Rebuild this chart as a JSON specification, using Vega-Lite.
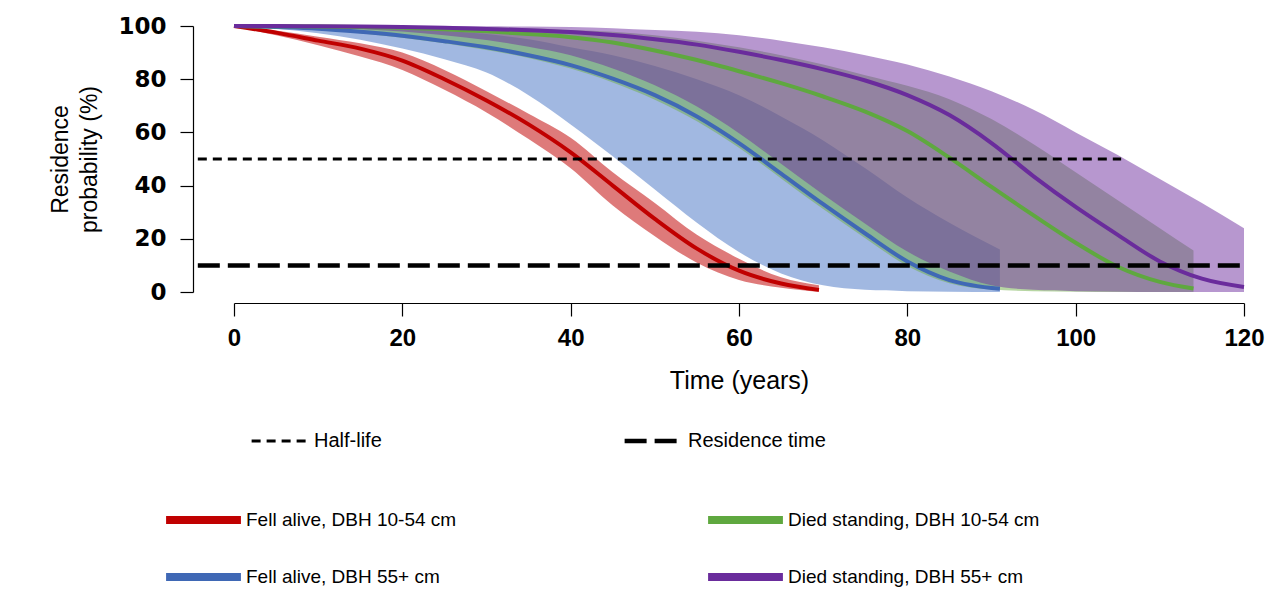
{
  "$schema": "https://vega.github.io/schema/vega-lite/v6.json",
  "width": 1010,
  "height": 266,
  "autosize": {"type": "none"},
  "padding": {"left": 234, "top": 26, "right": 37, "bottom": 315},
  "background": "white",
  "config": {
    "view": {"stroke": null},
    "font": "Liberation Sans",
    "axisY": {
      "offset": 41, "tickSize": 13, "tickColor": "#000", "domainColor": "#000",
      "tickWidth": 1.2, "domainWidth": 1.2, "grid": false, "labelFlush": false,
      "labelFont": "DejaVu Sans", "labelFontWeight": "bold", "labelFontSize": 23,
      "labelColor": "#000", "labelPadding": 14,
      "titleFont": "Liberation Sans", "titleFontSize": 23, "titleFontWeight": "normal",
      "titleColor": "#000", "titlePadding": 16, "titleLineHeight": 29
    },
    "axisX": {
      "offset": 11, "tickSize": 13, "tickColor": "#000", "domainColor": "#000",
      "tickWidth": 1.2, "domainWidth": 1.2, "grid": false, "labelFlush": false,
      "labelFont": "Liberation Sans", "labelFontWeight": "bold", "labelFontSize": 24,
      "labelColor": "#000", "labelPadding": 10,
      "titleFont": "Liberation Sans", "titleFontSize": 25, "titleFontWeight": "normal",
      "titleColor": "#000", "titlePadding": 18
    }
  },
  "datasets": {
    "curves": [
      {"s": "Fell alive, DBH 10-54 cm", "t": 0, "p": 100, "lo": 100, "hi": 100},
      {"s": "Fell alive, DBH 10-54 cm", "t": 5, "p": 97.5, "lo": 96.5, "hi": 98.3},
      {"s": "Fell alive, DBH 10-54 cm", "t": 10, "p": 94.5, "lo": 92.8, "hi": 96},
      {"s": "Fell alive, DBH 10-54 cm", "t": 15, "p": 91.5, "lo": 88.5, "hi": 93.5},
      {"s": "Fell alive, DBH 10-54 cm", "t": 20, "p": 87, "lo": 83.5, "hi": 90},
      {"s": "Fell alive, DBH 10-54 cm", "t": 25, "p": 80, "lo": 76, "hi": 83.5},
      {"s": "Fell alive, DBH 10-54 cm", "t": 30, "p": 72, "lo": 67.5, "hi": 75.5},
      {"s": "Fell alive, DBH 10-54 cm", "t": 35, "p": 63, "lo": 57.5, "hi": 67},
      {"s": "Fell alive, DBH 10-54 cm", "t": 40, "p": 52.5, "lo": 46.5, "hi": 58},
      {"s": "Fell alive, DBH 10-54 cm", "t": 45, "p": 40, "lo": 32.5, "hi": 45},
      {"s": "Fell alive, DBH 10-54 cm", "t": 50, "p": 27.5, "lo": 21, "hi": 33.5},
      {"s": "Fell alive, DBH 10-54 cm", "t": 55, "p": 16.3, "lo": 11, "hi": 21.5},
      {"s": "Fell alive, DBH 10-54 cm", "t": 60, "p": 8, "lo": 4.5, "hi": 12.5},
      {"s": "Fell alive, DBH 10-54 cm", "t": 65, "p": 3.2, "lo": 1.6, "hi": 5.5},
      {"s": "Fell alive, DBH 10-54 cm", "t": 69.5, "p": 0.8, "lo": 0, "hi": 2.5},

      {"s": "Fell alive, DBH 55+ cm", "t": 0, "p": 100, "lo": 100, "hi": 100},
      {"s": "Fell alive, DBH 55+ cm", "t": 5, "p": 99.6, "lo": 99, "hi": 99.9},
      {"s": "Fell alive, DBH 55+ cm", "t": 10, "p": 99, "lo": 97.3, "hi": 99.8},
      {"s": "Fell alive, DBH 55+ cm", "t": 15, "p": 97.8, "lo": 94.8, "hi": 99.5},
      {"s": "Fell alive, DBH 55+ cm", "t": 20, "p": 96.3, "lo": 91.5, "hi": 99},
      {"s": "Fell alive, DBH 55+ cm", "t": 25, "p": 94.3, "lo": 87.5, "hi": 98.2},
      {"s": "Fell alive, DBH 55+ cm", "t": 30, "p": 92, "lo": 82.5, "hi": 97},
      {"s": "Fell alive, DBH 55+ cm", "t": 35, "p": 89, "lo": 74, "hi": 95},
      {"s": "Fell alive, DBH 55+ cm", "t": 40, "p": 85.3, "lo": 63, "hi": 92},
      {"s": "Fell alive, DBH 55+ cm", "t": 45, "p": 80.2, "lo": 51, "hi": 89},
      {"s": "Fell alive, DBH 55+ cm", "t": 50, "p": 74, "lo": 38.5, "hi": 85},
      {"s": "Fell alive, DBH 55+ cm", "t": 55, "p": 66, "lo": 26, "hi": 80},
      {"s": "Fell alive, DBH 55+ cm", "t": 60, "p": 56, "lo": 15, "hi": 74},
      {"s": "Fell alive, DBH 55+ cm", "t": 65, "p": 44.5, "lo": 7, "hi": 66},
      {"s": "Fell alive, DBH 55+ cm", "t": 70, "p": 33, "lo": 2.5, "hi": 57},
      {"s": "Fell alive, DBH 55+ cm", "t": 75, "p": 22, "lo": 0.8, "hi": 46.5},
      {"s": "Fell alive, DBH 55+ cm", "t": 80, "p": 11.5, "lo": 0.3, "hi": 35.5},
      {"s": "Fell alive, DBH 55+ cm", "t": 85, "p": 4.5, "lo": 0.1, "hi": 26},
      {"s": "Fell alive, DBH 55+ cm", "t": 91, "p": 1.2, "lo": 0, "hi": 16},

      {"s": "Died standing, DBH 10-54 cm", "t": 0, "p": 100, "lo": 100, "hi": 100},
      {"s": "Died standing, DBH 10-54 cm", "t": 5, "p": 99.9, "lo": 99.4, "hi": 100},
      {"s": "Died standing, DBH 10-54 cm", "t": 10, "p": 99.8, "lo": 98.6, "hi": 100},
      {"s": "Died standing, DBH 10-54 cm", "t": 15, "p": 99.6, "lo": 97.3, "hi": 99.9},
      {"s": "Died standing, DBH 10-54 cm", "t": 20, "p": 99.3, "lo": 95.6, "hi": 99.8},
      {"s": "Died standing, DBH 10-54 cm", "t": 25, "p": 98.8, "lo": 93.5, "hi": 99.7},
      {"s": "Died standing, DBH 10-54 cm", "t": 30, "p": 98, "lo": 91, "hi": 99.5},
      {"s": "Died standing, DBH 10-54 cm", "t": 35, "p": 97, "lo": 88, "hi": 99.2},
      {"s": "Died standing, DBH 10-54 cm", "t": 40, "p": 95.8, "lo": 84, "hi": 98.5},
      {"s": "Died standing, DBH 10-54 cm", "t": 45, "p": 93.8, "lo": 78.8, "hi": 97.8},
      {"s": "Died standing, DBH 10-54 cm", "t": 50, "p": 90.8, "lo": 72.3, "hi": 96.5},
      {"s": "Died standing, DBH 10-54 cm", "t": 55, "p": 87.2, "lo": 64.2, "hi": 94.5},
      {"s": "Died standing, DBH 10-54 cm", "t": 60, "p": 83, "lo": 54.2, "hi": 92},
      {"s": "Died standing, DBH 10-54 cm", "t": 65, "p": 78.5, "lo": 42.7, "hi": 89},
      {"s": "Died standing, DBH 10-54 cm", "t": 70, "p": 73.5, "lo": 31.2, "hi": 85.5},
      {"s": "Died standing, DBH 10-54 cm", "t": 75, "p": 67.8, "lo": 20.2, "hi": 81.5},
      {"s": "Died standing, DBH 10-54 cm", "t": 80, "p": 60.5, "lo": 9.8, "hi": 77.5},
      {"s": "Died standing, DBH 10-54 cm", "t": 85, "p": 50.5, "lo": 3.3, "hi": 72.5},
      {"s": "Died standing, DBH 10-54 cm", "t": 90, "p": 39.5, "lo": 0.9, "hi": 65},
      {"s": "Died standing, DBH 10-54 cm", "t": 95, "p": 28.8, "lo": 0.3, "hi": 55.5},
      {"s": "Died standing, DBH 10-54 cm", "t": 100, "p": 18.5, "lo": 0.1, "hi": 45},
      {"s": "Died standing, DBH 10-54 cm", "t": 105, "p": 9.5, "lo": 0, "hi": 34.5},
      {"s": "Died standing, DBH 10-54 cm", "t": 110, "p": 3.8, "lo": 0, "hi": 24},
      {"s": "Died standing, DBH 10-54 cm", "t": 114, "p": 1.3, "lo": 0, "hi": 15.6},

      {"s": "Died standing, DBH 55+ cm", "t": 0, "p": 100, "lo": 100, "hi": 100},
      {"s": "Died standing, DBH 55+ cm", "t": 5, "p": 100, "lo": 99.8, "hi": 100},
      {"s": "Died standing, DBH 55+ cm", "t": 10, "p": 99.9, "lo": 99.5, "hi": 100},
      {"s": "Died standing, DBH 55+ cm", "t": 15, "p": 99.8, "lo": 98.9, "hi": 100},
      {"s": "Died standing, DBH 55+ cm", "t": 20, "p": 99.6, "lo": 97.9, "hi": 100},
      {"s": "Died standing, DBH 55+ cm", "t": 25, "p": 99.3, "lo": 96.5, "hi": 100},
      {"s": "Died standing, DBH 55+ cm", "t": 30, "p": 98.9, "lo": 94.7, "hi": 99.9},
      {"s": "Died standing, DBH 55+ cm", "t": 35, "p": 98.4, "lo": 92.2, "hi": 99.8},
      {"s": "Died standing, DBH 55+ cm", "t": 40, "p": 97.7, "lo": 89, "hi": 99.6},
      {"s": "Died standing, DBH 55+ cm", "t": 45, "p": 96.6, "lo": 84, "hi": 99.2},
      {"s": "Died standing, DBH 55+ cm", "t": 50, "p": 95, "lo": 77.7, "hi": 98.5},
      {"s": "Died standing, DBH 55+ cm", "t": 55, "p": 93, "lo": 69.7, "hi": 97.8},
      {"s": "Died standing, DBH 55+ cm", "t": 60, "p": 90.3, "lo": 59.7, "hi": 96.5},
      {"s": "Died standing, DBH 55+ cm", "t": 65, "p": 87.2, "lo": 48.2, "hi": 94.5},
      {"s": "Died standing, DBH 55+ cm", "t": 70, "p": 83.7, "lo": 36.7, "hi": 92},
      {"s": "Died standing, DBH 55+ cm", "t": 75, "p": 79.5, "lo": 25.7, "hi": 89},
      {"s": "Died standing, DBH 55+ cm", "t": 80, "p": 74, "lo": 15.2, "hi": 85.5},
      {"s": "Died standing, DBH 55+ cm", "t": 85, "p": 66.5, "lo": 7.7, "hi": 81},
      {"s": "Died standing, DBH 55+ cm", "t": 90, "p": 56, "lo": 2.5, "hi": 75.5},
      {"s": "Died standing, DBH 55+ cm", "t": 95, "p": 43.5, "lo": 0.8, "hi": 68.5},
      {"s": "Died standing, DBH 55+ cm", "t": 100, "p": 32, "lo": 0.3, "hi": 60},
      {"s": "Died standing, DBH 55+ cm", "t": 105, "p": 21.5, "lo": 0.1, "hi": 51.5},
      {"s": "Died standing, DBH 55+ cm", "t": 110, "p": 11.5, "lo": 0, "hi": 42.5},
      {"s": "Died standing, DBH 55+ cm", "t": 115, "p": 5, "lo": 0, "hi": 33.5},
      {"s": "Died standing, DBH 55+ cm", "t": 120, "p": 1.9, "lo": 0, "hi": 24}
    ],
    "rules": [
      {"r": "Half-life", "t": -4.3, "t_end": 105.4, "p": 50},
      {"r": "Residence time", "t": -4.3, "t_end": 120, "p": 10}
    ]
  },
  "encoding": {
    "x": {
      "field": "t", "type": "quantitative",
      "scale": {"domain": [0, 120], "nice": false, "zero": false},
      "axis": {"title": "Time (years)", "values": [0, 20, 40, 60, 80, 100, 120]}
    }
  },
  "layer": [
    {
      "data": {"name": "curves"},
      "transform": [{"filter": "datum.s == 'Fell alive, DBH 10-54 cm'"}],
      "mark": {"type": "area", "color": "#c00000", "opacity": 0.52, "interpolate": "monotone"},
      "encoding": {
        "y": {
          "field": "lo", "type": "quantitative",
          "scale": {"domain": [0, 100], "nice": false},
          "axis": {"title": ["Residence", "probability (%)"], "values": [0, 20, 40, 60, 80, 100]}
        },
        "y2": {"field": "hi"}
      }
    },
    {
      "data": {"name": "curves"},
      "transform": [{"filter": "datum.s == 'Fell alive, DBH 55+ cm'"}],
      "mark": {"type": "area", "color": "#4472c4", "opacity": 0.5, "interpolate": "monotone"},
      "encoding": {
        "y": {
          "field": "lo", "type": "quantitative",
          "scale": {"domain": [0, 100], "nice": false},
          "axis": {"title": ["Residence", "probability (%)"], "values": [0, 20, 40, 60, 80, 100]}
        },
        "y2": {"field": "hi"}
      }
    },
    {
      "data": {"name": "curves"},
      "transform": [{"filter": "datum.s == 'Died standing, DBH 10-54 cm'"}],
      "mark": {"type": "area", "color": "#70ad47", "opacity": 0.5, "interpolate": "monotone"},
      "encoding": {
        "y": {
          "field": "lo", "type": "quantitative",
          "scale": {"domain": [0, 100], "nice": false},
          "axis": {"title": ["Residence", "probability (%)"], "values": [0, 20, 40, 60, 80, 100]}
        },
        "y2": {"field": "hi"}
      }
    },
    {
      "data": {"name": "curves"},
      "transform": [{"filter": "datum.s == 'Died standing, DBH 55+ cm'"}],
      "mark": {"type": "area", "color": "#7030a0", "opacity": 0.5, "interpolate": "monotone"},
      "encoding": {
        "y": {
          "field": "lo", "type": "quantitative",
          "scale": {"domain": [0, 100], "nice": false},
          "axis": {"title": ["Residence", "probability (%)"], "values": [0, 20, 40, 60, 80, 100]}
        },
        "y2": {"field": "hi"}
      }
    },
    {
      "data": {"name": "curves"},
      "mark": {"type": "line", "strokeWidth": 4, "interpolate": "monotone"},
      "encoding": {
        "y": {
          "field": "p", "type": "quantitative",
          "scale": {"domain": [0, 100], "nice": false},
          "axis": {"title": ["Residence", "probability (%)"], "values": [0, 20, 40, 60, 80, 100]}
        },
        "color": {
          "field": "s", "type": "nominal",
          "scale": {
            "domain": ["Fell alive, DBH 10-54 cm", "Fell alive, DBH 55+ cm", "Died standing, DBH 10-54 cm", "Died standing, DBH 55+ cm"],
            "range": ["#c00000", "#3f68b5", "#5fa83f", "#6a2c9c"]
          },
          "legend": {
            "orient": "none", "legendX": -72, "legendY": 479, "title": null,
            "columns": 2, "symbolType": "stroke", "symbolSize": 5600, "symbolStrokeWidth": 8,
            "clipHeight": 30, "rowPadding": 27, "columnPadding": 247,
            "labelFont": "Liberation Sans", "labelFontSize": 19, "labelColor": "#000",
            "labelOffset": 1, "labelLimit": 400
          }
        }
      }
    },
    {
      "data": {"name": "rules"},
      "mark": {"type": "rule", "color": "#000"},
      "encoding": {
        "x2": {"field": "t_end"},
        "y": {
          "field": "p", "type": "quantitative",
          "scale": {"domain": [0, 100], "nice": false},
          "axis": {"title": ["Residence", "probability (%)"], "values": [0, 20, 40, 60, 80, 100]}
        },
        "strokeDash": {
          "field": "r", "type": "nominal",
          "scale": {"domain": ["Half-life", "Residence time"], "range": [[9, 6], [22, 8]]},
          "legend": {
            "orient": "none", "legendX": 16, "legendY": 400, "title": null,
            "direction": "horizontal", "symbolType": "stroke", "symbolSize": 3000,
            "symbolStrokeColor": "#000", "symbolStrokeWidth": 3.5,
            "clipHeight": 30, "columnPadding": 240,
            "labelFont": "Liberation Sans", "labelFontSize": 20, "labelColor": "#000",
            "labelOffset": 6, "labelLimit": 400
          }
        },
        "strokeWidth": {
          "field": "r", "type": "ordinal",
          "scale": {"domain": ["Half-life", "Residence time"], "range": [3, 4.5]},
          "legend": null
        }
      }
    }
  ]
}
